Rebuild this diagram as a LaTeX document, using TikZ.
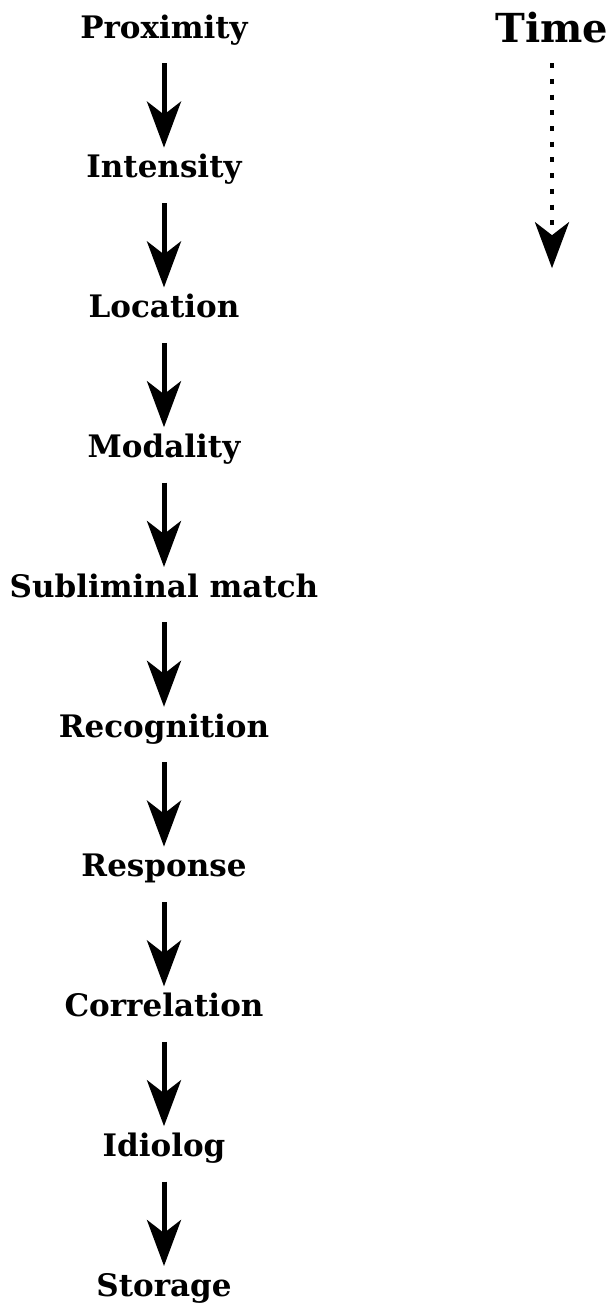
\documentclass[tikz,border=0pt]{standalone}
\usepackage{fontspec}
\setmainfont{DejaVu Serif}
\usetikzlibrary{arrows.meta,positioning}
\begin{document}
\begin{tikzpicture}[
    x=1pt, y=1pt,
    >={Stealth[length=46pt,width=34pt,inset=13pt]},
    stage/.style={font=\fontsize{31}{36}\selectfont\bfseries, text height=23pt, text depth=8pt, inner sep=0pt},
    axislbl/.style={font=\fontsize{40}{46}\selectfont\bfseries, text height=30pt, text depth=10pt, inner sep=0pt},
    flow/.style={->, line width=5pt, shorten <=17pt, shorten >=7pt},
    timeflow/.style={->, line width=4.5pt, dash pattern=on 5pt off 10.7pt, shorten <=11pt},
    node distance=108.4pt,
]
\useasboundingbox (0,0) rectangle (611,-1304);
% stages, top to bottom
\node[stage] (prox) at (164,-30.5) {Proximity};
\node[stage] (inten) [below=of prox] {Intensity};
\node[stage] (loc)   [below=of inten] {Location};
\node[stage] (modal) [below=of loc] {Modality};
\node[stage] (sublim) [below=of modal] {Subliminal match};
\node[stage] (recog) [below=of sublim] {Recognition};
\node[stage] (resp)  [below=of recog] {Response};
\node[stage] (corr)  [below=of resp] {Correlation};
\node[stage] (idio)  [below=of corr] {Idiolog};
\node[stage] (stor)  [below=of idio] {Storage};

% arrows between stages
\draw[flow] (prox) -- (inten);
\draw[flow] (inten) -- (loc);
\draw[flow] (loc) -- (modal);
\draw[flow] (modal) -- (sublim);
\draw[flow] (sublim) -- (recog);
\draw[flow] (recog) -- (resp);
\draw[flow] (resp) -- (corr);
\draw[flow] (corr) -- (idio);
\draw[flow] (idio) -- (stor);

% time axis
\node[axislbl] (time) at (552,-32) {Time};
\coordinate[below=216pt of time] (tend);
\draw[timeflow] (time) -- (tend);
\end{tikzpicture}
\end{document}
